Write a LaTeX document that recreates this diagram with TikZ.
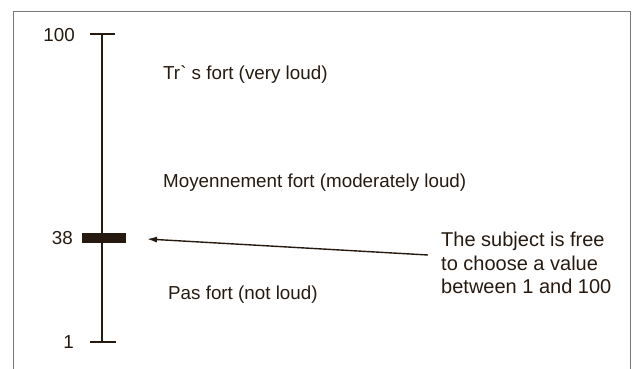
\documentclass[tikz,border=0pt]{standalone}
\usepackage{fontspec}
\setmainfont{Liberation Sans}
\usetikzlibrary{arrows.meta}
\definecolor{ink}{RGB}{38,26,16}
\definecolor{framec}{RGB}{120,120,120}
\tikzset{
  lbl/.style={font=\fontsize{18.8}{24}\selectfont, text=ink, inner sep=0pt},
  notelbl/.style={font=\fontsize{20}{23.5}\selectfont, text=ink, inner sep=0pt},
  scaleline/.style={draw=ink, line width=1.5pt},
}
\begin{document}
\begin{tikzpicture}[x=1pt,y=-1pt]
\useasboundingbox (0,0) rectangle (637,369);
\begin{scope}
\clip (0,0) rectangle (637,369);
\draw[framec, line width=1pt] (13,380) -- (13,12) -- (630,12) -- (630,380);
\end{scope}
% scale
\coordinate (top) at (102,34);
\coordinate (bot) at (102,342);
\draw[scaleline] (top) -- (bot);
\draw[scaleline] (90,34) -- (115,34);
\draw[scaleline] (90,342) -- (116,342);
\node[fill=ink, minimum width=44pt, minimum height=10pt, inner sep=0pt] (bar) at (104,238) {};
% numbers
\node[lbl, anchor=east] (n100) at (75,35) {100};
\node[lbl, anchor=east] (n38) at (73,238) {38};
\node[lbl, anchor=east] (n1) at (74,342) {1};
% category labels
\node[lbl, anchor=west] (tres) at (163,75) {Tr\textasciigrave{} s fort (very loud)};
\node[lbl, anchor=west] (moy) at (163,183) {Moyennement fort (moderately loud)};
\node[lbl, anchor=west] (pas) at (168,295) {Pas fort (not loud)};
% note
\node[notelbl, anchor=west, align=left] (note) at (441,263) {The subject is free\\to choose a value\\between 1 and 100};
\coordinate (tail) at (428,255);
\coordinate (tip) at (147,239);
\draw[ink, line width=1.4pt, -{Latex[length=10pt,width=6pt]}] (tail) -- (tip);
\end{tikzpicture}
\end{document}
